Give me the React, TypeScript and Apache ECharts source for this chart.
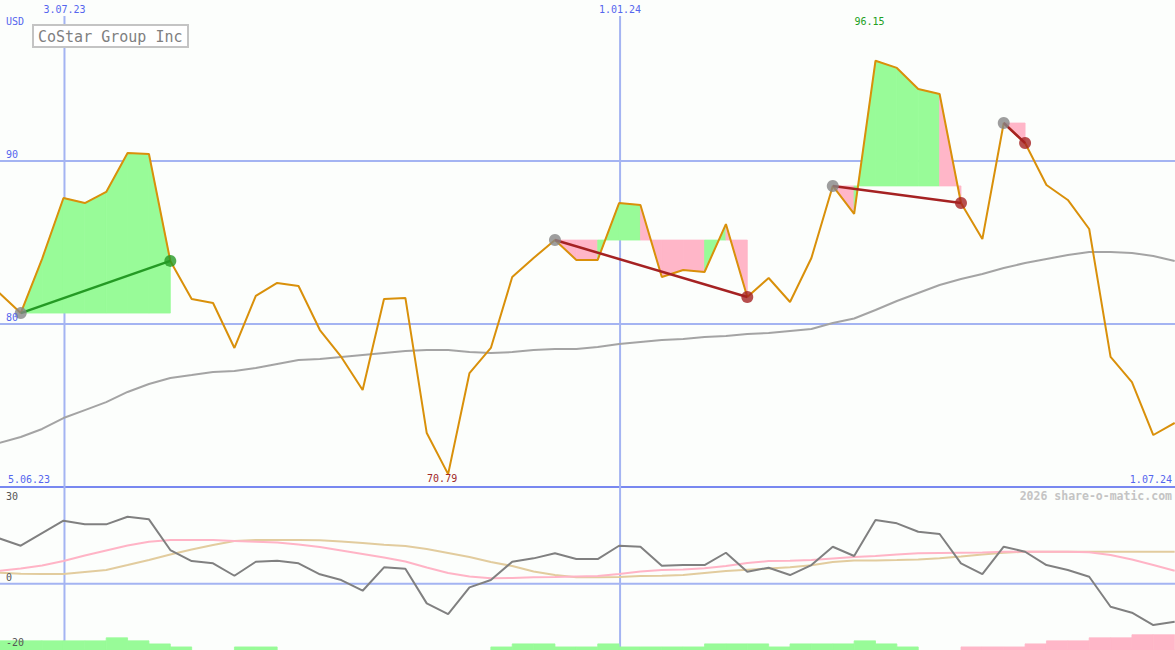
import React, { useEffect, useRef } from 'react';
import * as echarts from 'echarts';

// ---- data (weekly points, first value is week -1) ----
const firstWeek = -1;
const price = [
  81.9, 80.67, 84.0, 87.73, 87.42, 88.1, 90.49, 90.43, 83.87, 81.53, 81.29, 78.53, 81.72, 82.52,
  82.33, 79.63, 77.98, 75.95, 81.53, 81.6, 73.31, 70.79, 76.99, 78.53, 82.88, 84.05, 85.15, 83.93,
  83.93, 87.42, 87.3, 82.88, 83.31, 83.19, 86.13, 81.66, 82.82, 81.35, 84.05, 88.47, 86.75, 96.15,
  95.71, 94.42, 94.11, 87.42, 85.21, 92.33, 91.1, 88.53, 87.61, 85.83, 77.98, 76.44, 73.19, 73.93,
];
const movingAvg = [
  72.7, 73.07, 73.56, 74.23, 74.72, 75.21, 75.83, 76.32, 76.69, 76.87, 77.06, 77.12, 77.3, 77.55,
  77.79, 77.85, 77.98, 78.1, 78.22, 78.34, 78.4, 78.4, 78.28, 78.22, 78.28, 78.4, 78.47, 78.47,
  78.59, 78.77, 78.9, 79.02, 79.08, 79.2, 79.26, 79.39, 79.45, 79.57, 79.69, 80.06, 80.34, 80.86,
  81.41, 81.9, 82.39, 82.76, 83.07, 83.44, 83.74, 83.99, 84.23, 84.42, 84.42, 84.36, 84.17, 83.87,
];
const oscillator = [
  14.06, 11.77, 15.71, 19.53, 18.41, 18.41, 20.77, 19.96, 10.43, 7.02, 6.3, 2.45, 6.8, 7.11, 6.3,
  2.89, 1.12, -2.2, 5.06, 4.63, -6.12, -9.44, -1.15, 1.12, 6.8, 7.85, 9.41, 7.64, 7.64, 11.77,
  11.46, 5.56, 5.77, 5.77, 9.59, 3.69, 4.94, 2.67, 5.77, 11.46, 8.57, 19.75, 18.72, 16.11, 15.4,
  6.3, 2.98, 11.46, 9.9, 5.77, 4.22, 2.14, -7.17, -9.03, -12.85, -11.83,
];
const signalPink = [
  4.0, 4.69, 5.62, 7.02, 8.72, 10.28, 11.83, 13.01, 13.54, 13.54, 13.54, 13.23, 13.01, 12.76,
  12.14, 11.36, 10.28, 9.19, 8.1, 6.86, 5.0, 3.29, 2.2, 1.65, 1.74, 1.96, 2.05, 2.2, 2.36, 2.98,
  3.76, 4.22, 4.38, 4.75, 5.46, 6.4, 7.02, 7.11, 7.33, 7.79, 8.26, 8.57, 9.03, 9.41, 9.5, 9.59,
  9.66, 9.9, 9.9, 9.9, 9.9, 9.72, 8.88, 7.48, 5.77, 4.0,
];
const signalTan = [
  3.38, 3.04, 2.98, 2.98, 3.6, 4.22, 5.77, 7.33, 9.03, 10.59, 11.98, 13.23, 13.54, 13.54, 13.54,
  13.47, 13.07, 12.6, 12.08, 11.67, 10.74, 9.5, 8.26, 6.71, 5.46, 3.76, 2.67, 1.96, 1.96, 2.05,
  2.36, 2.45, 2.67, 3.29, 3.91, 4.32, 4.69, 5.06, 5.68, 6.71, 7.17, 7.2, 7.33, 7.48, 7.89, 8.41,
  9.03, 9.59, 9.9, 9.9, 9.9, 9.9, 9.9, 9.9, 9.9, 9.9,
];
// trend strength per week interval (week k -> k+1), + green, - pink
const trendBars = [
  3, 3, 3, 3, 3, 4, 3, 2, 1, 0, 0, 1, 1, 0, 0, 0, 0, 0, 0, 0, 0, 0, 0, 1, 2, 2, 1, 1, 2, 1, 1, 1, 1,
  2, 2, 2, 1, 2, 2, 2, 3, 2, 1, 0, 0, -1, -1, -1, -2, -3, -3, -4, -4, -5, -5,
];
const trades = [
  { entry: 0, exit: 7 },
  { entry: 25, exit: 34 },
  { entry: 38, exit: 44 },
  { entry: 46, exit: 47 },
];
const priceTicks = [80, 90];
const oscTicks = [30, 0, -20];
const oscGridLines = [0];
const dateTicks = [
  { week: 2, label: '3.07.23' },
  { week: 28, label: '1.01.24' },
];
const rangeLabels = ['5.06.23', '1.07.24'];
const currency = 'USD';
const title = 'CoStar Group Inc';
const watermark = '2026 share-o-matic.com';

// ---- styles ----
const BG = '#fcfefc';
const ORANGE = '#d9900a';
const MA_GRAY = '#a4a4a4';
const OSC_GRAY = '#808080';
const PINK_LINE = '#ffb4c6';
const TAN_LINE = '#e2cc9e';
const FILL_GREEN = '#98fb98';
const FILL_PINK = '#ffb6c8';
const WIN = '#249a24';
const LOSS = '#a52222';
const ENTRY = '#868686';
const GRID_LIGHT = '#a4b4f2';
const GRID_DARK = '#7888f0';
const BLUE_TEXT = '#5566ee';
const MONO = '"DejaVu Sans Mono", monospace';

const at = (w: number) => price[w - firstWeek];
const pairs = (arr: number[]) => arr.map((v, k) => [firstWeek + k, v]);

export default function App() {
  const ref = useRef<HTMLDivElement>(null);
  useEffect(() => {
    const el = ref.current as HTMLDivElement;
    const chart = echarts.init(el, null, { renderer: 'svg' });
    const X0 = -0.97;
    const X1 = 54.015;

    const fillData: number[][] = [];
    trades.forEach((t) => {
      const b = at(t.entry);
      for (let w = t.entry; w < t.exit; w++) fillData.push([w, at(w), at(w + 1), b]);
    });
    const barData = trendBars
      .map((v, k) => [firstWeek + k, v])
      .filter((d) => d[1] !== 0);

    const tradeLines = trades.map((t) => {
      const win = at(t.exit) > at(t.entry);
      return {
        type: 'line',
        xAxisIndex: 0,
        yAxisIndex: 0,
        z: 4,
        silent: true,
        symbol: 'none',
        data: [
          [t.entry, at(t.entry)],
          [t.exit, at(t.exit)],
        ],
        lineStyle: { color: win ? WIN : LOSS, width: 2.5 },
      };
    });
    const dots: any[] = [];
    trades.forEach((t) => {
      const win = at(t.exit) > at(t.entry);
      dots.push({ value: [t.entry, at(t.entry)], itemStyle: { color: ENTRY } });
      dots.push({ value: [t.exit, at(t.exit)], itemStyle: { color: win ? WIN : LOSS } });
    });

    const option: any = {
      animation: false,
      backgroundColor: BG,
      grid: [
        { left: 0, top: 0, width: 1175, height: 487 },
        { left: 0, top: 487, width: 1175, height: 163 },
      ],
      xAxis: [
        { gridIndex: 0, type: 'value', min: X0, max: X1, show: false, splitLine: { show: false } },
        { gridIndex: 1, type: 'value', min: X0, max: X1, show: false, splitLine: { show: false } },
      ],
      yAxis: [
        { gridIndex: 0, type: 'value', min: 70, max: 99.877, show: false, splitLine: { show: false } },
        { gridIndex: 1, type: 'value', min: -20.6, max: 30, show: false, splitLine: { show: false } },
        { gridIndex: 1, type: 'value', min: 0, max: 53.4, show: false, splitLine: { show: false } },
      ],
      series: [
        {
          type: 'custom',
          xAxisIndex: 0,
          yAxisIndex: 0,
          z: 1,
          silent: true,
          clip: true,
          data: fillData,
          encode: { x: 0, y: [1, 2, 3] },
          renderItem: (params: any, api: any) => {
            const w = api.value(0);
            const p0 = api.value(1);
            const p1 = api.value(2);
            const b = api.value(3);
            const pts = [api.coord([w, b]), api.coord([w, p0]), api.coord([w + 1, p1]), api.coord([w + 1, b])];
            const c = p1 >= b ? FILL_GREEN : FILL_PINK;
            return {
              type: 'polygon',
              shape: { points: pts },
              style: { fill: c, stroke: c, lineWidth: 0.8 },
            };
          },
        },
        {
          type: 'line',
          xAxisIndex: 0,
          yAxisIndex: 0,
          z: 2,
          silent: true,
          symbol: 'none',
          data: pairs(movingAvg),
          lineStyle: { color: MA_GRAY, width: 2 },
        },
        {
          type: 'line',
          xAxisIndex: 0,
          yAxisIndex: 0,
          z: 3,
          silent: true,
          symbol: 'none',
          data: pairs(price),
          lineStyle: { color: ORANGE, width: 2 },
        },
        ...tradeLines,
        {
          type: 'scatter',
          xAxisIndex: 0,
          yAxisIndex: 0,
          z: 5,
          silent: true,
          symbolSize: 12,
          data: dots,
        },
        {
          type: 'custom',
          xAxisIndex: 1,
          yAxisIndex: 2,
          z: 1,
          silent: true,
          clip: true,
          data: barData,
          encode: { x: 0, y: 1 },
          renderItem: (params: any, api: any) => {
            const w = api.value(0);
            const lvl = api.value(1);
            const a = api.coord([w, 0]);
            const c = api.coord([w + 1, Math.abs(lvl)]);
            const col = lvl > 0 ? FILL_GREEN : FILL_PINK;
            return {
              type: 'rect',
              shape: { x: a[0], y: c[1], width: c[0] - a[0], height: a[1] - c[1] },
              style: { fill: col, stroke: col, lineWidth: 0.8 },
            };
          },
        },
        {
          type: 'line',
          xAxisIndex: 1,
          yAxisIndex: 1,
          z: 2,
          silent: true,
          symbol: 'none',
          data: pairs(signalTan),
          lineStyle: { color: TAN_LINE, width: 2 },
        },
        {
          type: 'line',
          xAxisIndex: 1,
          yAxisIndex: 1,
          z: 3,
          silent: true,
          symbol: 'none',
          data: pairs(signalPink),
          lineStyle: { color: PINK_LINE, width: 2 },
        },
        {
          type: 'line',
          xAxisIndex: 1,
          yAxisIndex: 1,
          z: 4,
          silent: true,
          symbol: 'none',
          data: pairs(oscillator),
          lineStyle: { color: OSC_GRAY, width: 2 },
        },
      ],
    };
    chart.setOption(option);

    const px = (g: number, x: number, y: number) =>
      chart.convertToPixel({ gridIndex: g } as any, [x, y]) as number[];
    const W = 1175;
    const topY = px(0, X0, 99.877)[1];
    const mainBottom = px(0, X0, 70)[1];
    const lowTop = px(1, X0, 30)[1];
    const lowBottom = 650;

    const txt = (text: string, x: number, y: number, fill: string, size: number, align = 'left', bold = false) => ({
      type: 'text',
      z: 100,
      silent: true,
      x,
      y,
      style: {
        text,
        fill,
        font: `${bold ? 'bold ' : ''}${size}px ${MONO}`,
        align,
        textAlign: align,
        verticalAlign: 'middle',
        textVerticalAlign: 'middle',
      },
    });
    const hline = (y: number, color: string, w = 2) => ({
      type: 'line',
      z: 0,
      silent: true,
      shape: { x1: 0, y1: y, x2: W, y2: y },
      style: { stroke: color, lineWidth: w },
    });

    const elements: any[] = [];
    priceTicks.forEach((v) => {
      const y = px(0, X0, v)[1];
      elements.push(hline(y, GRID_LIGHT));
      elements.push(txt(String(v), 6, y - 6, BLUE_TEXT, 10));
    });
    elements.push(hline(mainBottom, GRID_DARK));
    oscGridLines.forEach((v) => elements.push(hline(px(1, X0, v)[1], GRID_LIGHT)));
    oscTicks.forEach((v) => {
      const y = px(1, X0, v)[1];
      elements.push(txt(String(v), 6, Math.max(y - 6, lowTop + 9), '#555555', 10));
    });
    dateTicks.forEach((d) => {
      const x = px(0, d.week, 70)[0] + 1;
      elements.push({
        type: 'line',
        z: 0,
        silent: true,
        shape: { x1: x, y1: topY + 16, x2: x, y2: lowBottom },
        style: { stroke: GRID_LIGHT, lineWidth: 2 },
      });
      elements.push(txt(d.label, x, topY + 9, BLUE_TEXT, 10, 'center'));
    });
    elements.push(txt(currency, 6, topY + 21, BLUE_TEXT, 10));
    elements.push(txt(rangeLabels[0], 8, mainBottom - 8, BLUE_TEXT, 10));
    elements.push(txt(rangeLabels[1], W - 3, mainBottom - 8, BLUE_TEXT, 10, 'right'));

    // extremes
    let maxK = 1;
    let minK = 1;
    price.forEach((v, k) => {
      if (k < 1) return;
      if (v > price[maxK]) maxK = k;
      if (v < price[minK]) minK = k;
    });
    const maxX = px(0, firstWeek + maxK, 70)[0];
    const minX = px(0, firstWeek + minK, 70)[0];
    elements.push(txt(price[maxK].toFixed(2), maxX - 6, topY + 21, '#22a022', 10, 'center'));
    elements.push(txt(price[minK].toFixed(2), minX - 6, mainBottom - 9, '#a02828', 10, 'center'));

    elements.push(txt(watermark, W - 3, lowTop + 9, '#c4c4c4', 11.5, 'right', true));

    // title box
    elements.push({
      type: 'rect',
      z: 99,
      silent: true,
      shape: { x: 33, y: 25, width: 155, height: 22 },
      style: { fill: '#ffffff', stroke: '#c4c4c4', lineWidth: 2 },
    });
    elements.push(txt(title, 38, 36.5, '#808080', 15));

    chart.setOption({ graphic: { elements } });

    return () => chart.dispose();
  }, []);
  return <div ref={ref} style={{ position: 'absolute', left: 0, top: 0, width: 1175, height: 650 }} />;
}
